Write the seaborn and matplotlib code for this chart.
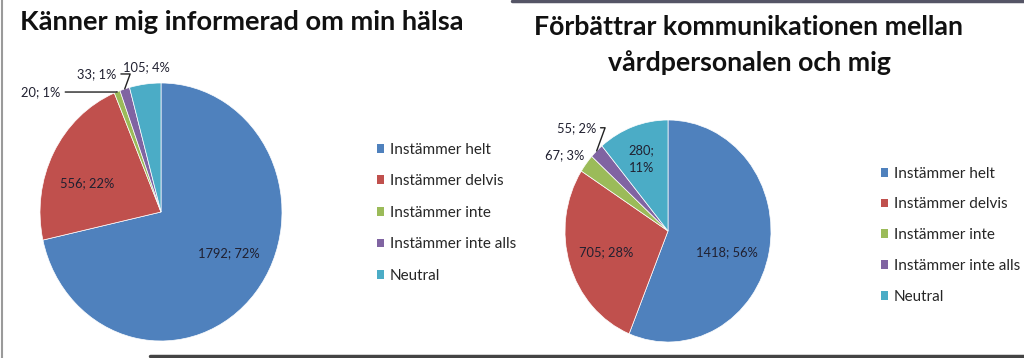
import seaborn as sns
import matplotlib.pyplot as plt
import numpy as np
from matplotlib.patches import Patch
from matplotlib.lines import Line2D


# categories and answers
categories = ['Instämmer helt', 'Instämmer delvis', 'Instämmer inte',
              'Instämmer inte alls', 'Neutral']
informed_counts = [1792, 556, 20, 33, 105]
communication_counts = [1418, 705, 67, 55, 280]
title_left = 'Känner mig informerad om min hälsa'
title_right = 'Förbättrar kommunikationen mellan\nvårdpersonalen och mig'

colors = sns.color_palette(['#4F81BD', '#C0504D', '#9BBB59', '#8064A2', '#4BACC6'])

sns.set_theme(style="white")
plt.rcParams['font.family'] = ['Lato', 'DejaVu Sans']

fig = plt.figure(figsize=(10.24, 3.58), dpi=100)


def make_labels(counts):
    total = sum(counts)
    return [f'{c}; {round(100 * c / total)}%' for c in counts]


def draw_pie(ax, counts, label_pos, leaders, wrap=()):
    wedges, _ = ax.pie(counts, colors=colors, startangle=90, counterclock=False,
                       wedgeprops=dict(linewidth=0.5, edgecolor='white'))
    labels = make_labels(counts)
    for i, (w, lab) in enumerate(zip(wedges, labels)):
        mid = np.deg2rad((w.theta1 + w.theta2) / 2)
        edge = (np.cos(mid), np.sin(mid))
        x, y = label_pos[i]
        if i in leaders:
            ax.annotate(lab, xy=edge, xytext=(x, y), fontsize=9.3, color='#202030',
                        ha=leaders[i], va='center', annotation_clip=False,
                        arrowprops=dict(arrowstyle='-', color='#222222', lw=1,
                                        shrinkA=1, shrinkB=0,
                                        connectionstyle='angle,angleA=0,angleB=70'))
        else:
            if i in wrap:
                lab = lab.replace('; ', ';\n')
            ax.text(x, y, lab, fontsize=9.3, color='#202030', ha='center',
                    va='center', linespacing=1.6)
    ax.set_aspect('auto', adjustable='box')
    ax.set_xlim(-1, 1)
    ax.set_ylim(-1, 1)
    return wedges


# label positions (axes data units, pie radius = 1)
left_pos = [(0.56, -0.32), (-0.61, 0.22), (-0.83, 0.93), (-0.37, 1.07), (-0.12, 1.12)]
right_pos = [(0.57, -0.19), (-0.60, -0.19), (-1.0, 0.68), (-0.7, 0.93), (-0.26, 0.65)]

ax1 = fig.add_axes([40 / 1024, 17 / 358, 242 / 1024, 258 / 358])
w1 = draw_pie(ax1, informed_counts, left_pos, {2: 'right', 3: 'right'})

ax2 = fig.add_axes([565 / 1024, 16 / 358, 206 / 1024, 222 / 358])
w2 = draw_pie(ax2, communication_counts, right_pos, {3: 'right'}, wrap=(4,))

fig.text(20 / 1024, 1 - 22 / 358, title_left, fontsize=19.6, fontweight='bold',
         ha='left', va='center', color='#111111')
fig.text(749 / 1024, 1 - 45 / 358, title_right, fontsize=19.3, fontweight='bold',
         ha='center', va='center', color='#111111', linespacing=1.5)

handles = [Patch(facecolor=c, edgecolor='none') for c in colors]
for x0, y0, sp in [(369 / 1024, 1 - 135 / 358, 1.15), (873 / 1024, 1 - 159 / 358, 1.1)]:
    fig.legend(handles, categories, loc='upper left', bbox_to_anchor=(x0, y0),
               frameon=False, fontsize=11, handlelength=0.5, handleheight=0.5,
               handletextpad=0.35, labelspacing=sp, borderpad=0)

# screenshot frame lines
fig.add_artist(Line2D([2 / 1024, 2 / 1024], [0, 1], color='#9a9a9a', lw=1.5))
fig.add_artist(Line2D([512 / 1024, 1], [1 - 1 / 358, 1 - 1 / 358], color='#555566', lw=2.5))
fig.add_artist(Line2D([150 / 1024, 1], [2 / 358, 2 / 358], color='#444444', lw=2.5))

fig.savefig('out.png', dpi=100)
